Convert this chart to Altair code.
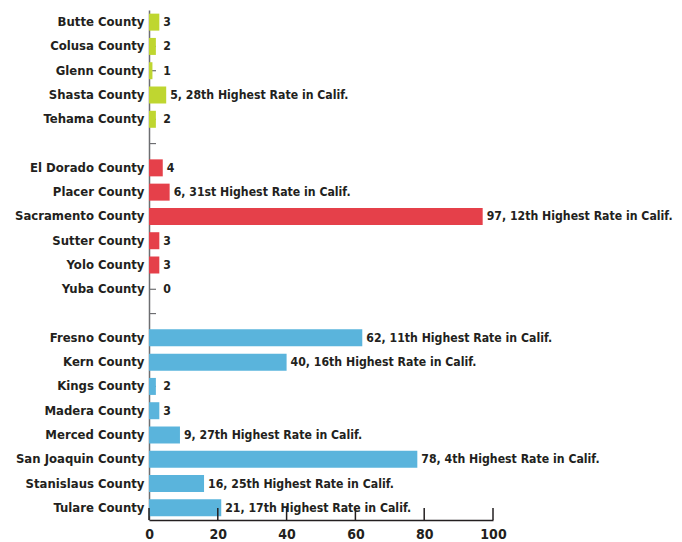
import altair as alt
import pandas as pd

counties = ["Butte County", "Colusa County", "Glenn County", "Shasta County", "Tehama County", "gap1",
            "El Dorado County", "Placer County", "Sacramento County", "Sutter County", "Yolo County", "Yuba County", "gap2",
            "Fresno County", "Kern County", "Kings County", "Madera County", "Merced County",
            "San Joaquin County", "Stanislaus County", "Tulare County"]
values = [3, 2, 1, 5, 2, None,
          4, 6, 97, 3, 3, 0, None,
          62, 40, 2, 3, 9, 78, 16, 21]
labels = ["3", "2", "1", "5, 28th Highest Rate in Calif.", "2", "",
          "4", "6, 31st Highest Rate in Calif.", "97, 12th Highest Rate in Calif.", "3", "3", "0", "",
          "62, 11th Highest Rate in Calif.", "40, 16th Highest Rate in Calif.", "2", "3",
          "9, 27th Highest Rate in Calif.", "78, 4th Highest Rate in Calif.",
          "16, 25th Highest Rate in Calif.", "21, 17th Highest Rate in Calif."]
groups = ["North", "North", "North", "North", "North", "",
          "Sacramento", "Sacramento", "Sacramento", "Sacramento", "Sacramento", "Sacramento", "",
          "Central", "Central", "Central", "Central", "Central", "Central", "Central", "Central"]
x_ticks = [0, 20, 40, 60, 80, 100]

group_names = ["North", "Sacramento", "Central"]
group_colors = ["#bfd630", "#e5404a", "#5ab4dc"]

df = pd.DataFrame({"county": counties, "value": values, "label": labels, "group": groups})
bars_df = df[df["group"] != ""]
ticks_df = pd.DataFrame({"t": x_ticks})

W, H = 344, 510
FONT = "DejaVu Sans Condensed"
TXT = "#231f20"
FS = 13

yenc = alt.Y("county:N", sort=counties,
             scale=alt.Scale(paddingInner=0.3, paddingOuter=0.15),
             axis=alt.Axis(title=None, ticks=False, domain=True, domainColor="#6d6e71", domainWidth=1.5,
                           labelFont=FONT, labelFontSize=FS, labelFontWeight="bold", labelColor=TXT,
                           labelPadding=5,
                           labelExpr="indexof(datum.value, 'gap') == 0 ? '' : datum.value"))
xscale = alt.Scale(domain=[0, 100], nice=False, zero=True)
xenc = alt.X("value:Q", scale=xscale,
             axis=alt.Axis(title=None, values=x_ticks, ticks=False, grid=False, domain=True,
                           domainColor="#231f20", domainWidth=1.5,
                           labelFont=FONT, labelFontSize=14, labelFontWeight="bold", labelColor=TXT,
                           labelPadding=7, labelFlush=False))

ytick = alt.Chart(df).mark_rule(color="#6d6e71", strokeWidth=1.2).encode(
    y=alt.Y("county:N", sort=counties), x=alt.value(0), x2=alt.value(7))

bars = alt.Chart(bars_df).mark_bar().encode(
    y=yenc, x=xenc,
    color=alt.Color("group:N", scale=alt.Scale(domain=group_names, range=group_colors), legend=None))

text = alt.Chart(bars_df).transform_calculate(lx="max(datum.value, 3)").mark_text(
    align="left", baseline="middle", dx=4, font=FONT, fontSize=12.2,
    fontWeight="bold", color=TXT).encode(
    y=alt.Y("county:N", sort=counties), x=alt.X("lx:Q", scale=xscale), text="label:N")

xtick = alt.Chart(ticks_df).mark_rule(color="#231f20", strokeWidth=1.5).encode(
    x=alt.X("t:Q", scale=xscale), y=alt.value(H - 12), y2=alt.value(H))

chart = alt.layer(ytick, bars, text, xtick).properties(
    width=W, height=H,
    autosize=alt.AutoSizeParams(type="none"),
    padding={"left": 141, "top": 2, "right": 181, "bottom": 24},
    background="white",
).configure_view(stroke=None)

chart.save("out.html", embed_options={"renderer": "svg", "actions": False})
